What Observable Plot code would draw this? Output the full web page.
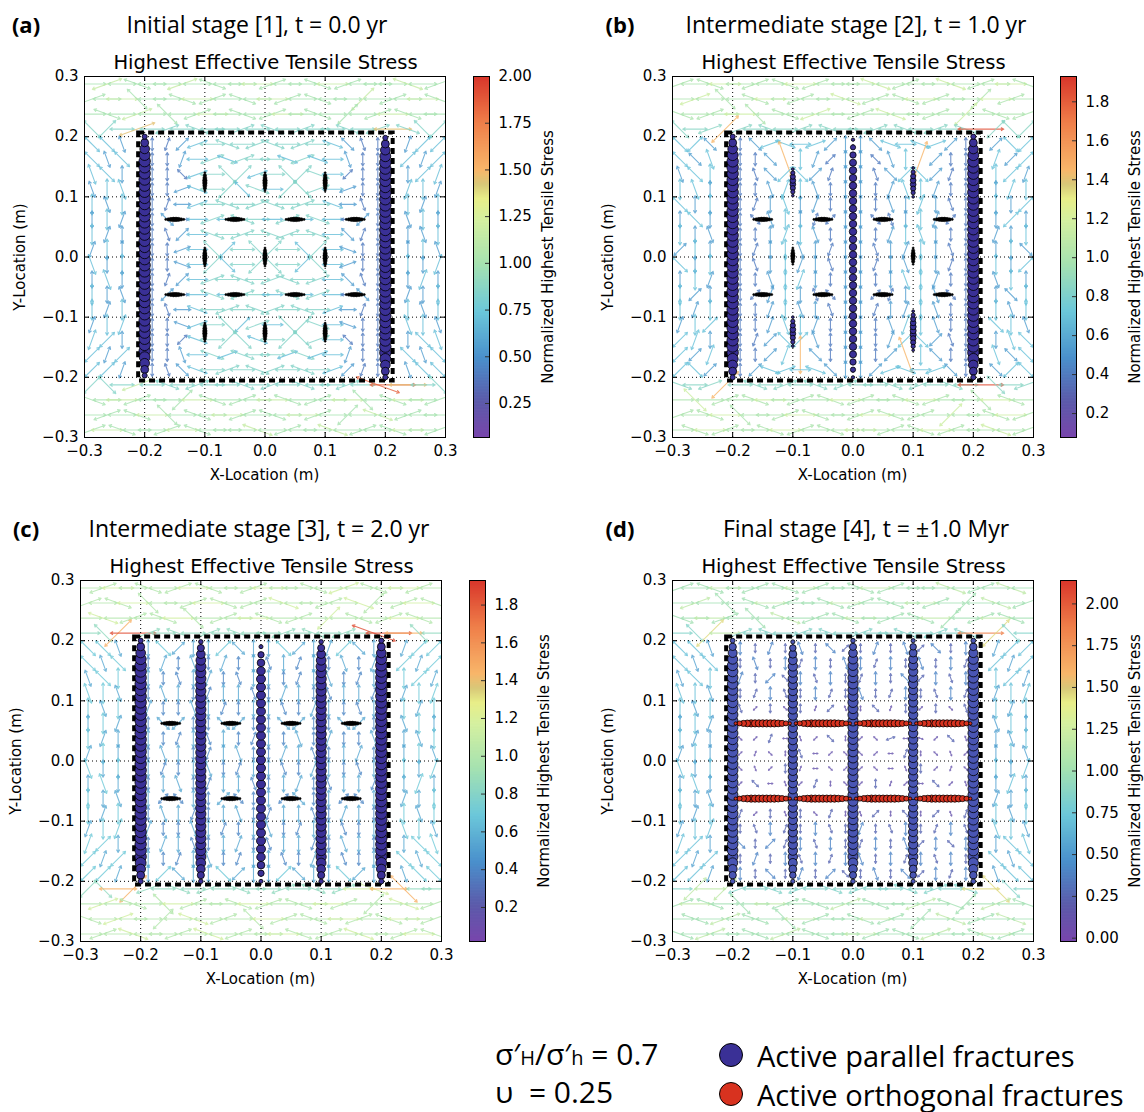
<!DOCTYPE html>
<html>
<head>
<meta charset="utf-8">
<script src="https://cdn.jsdelivr.net/npm/d3@7"></script>
<script src="https://cdn.jsdelivr.net/npm/@observablehq/plot@0.6"></script>
<style>
  html, body { margin: 0; padding: 0; background: #fff; overflow: hidden; }
  #fig { position: relative; width: 1144px; height: 1112px; overflow: hidden; color: #000; }
  .t { position: absolute; white-space: nowrap; line-height: 1.2; }
  .c { transform: translate(-50%, -50%); }
  .tag { font: 700 22px "Open Sans", sans-serif; }
  .stage { font: 23px "Open Sans", sans-serif; }
  .sub { font: 19.5px "DejaVu Sans", sans-serif; }
  .ax { font: 15px "DejaVu Sans", sans-serif; }
  .rot { transform: translate(-50%, -50%) rotate(-90deg); }
  .big { font: 30px "Open Sans", sans-serif; line-height: 1; transform: translateY(-50%); }
  .leg { font: 29px "Open Sans", sans-serif; line-height: 1; transform: translateY(-50%); }
  .swatch { position: absolute; width: 22px; height: 22px; border-radius: 50%; border: 1px solid #000; transform: translate(-50%, -50%); }
</style>
</head>
<body>
<div id="fig"></div>
<script>
// ---------- axes and labels ----------
const xTicks = [-0.3, -0.2, -0.1, 0, 0.1, 0.2, 0.3];
const yTicks = [-0.3, -0.2, -0.1, 0, 0.1, 0.2, 0.3];
const gridLines = [-0.2, -0.1, 0, 0.1, 0.2];
const panelTags = ["(a)", "(b)", "(c)", "(d)"];
const stageTitles = [
  "Initial stage [1], t = 0.0 yr",
  "Intermediate stage [2], t = 1.0 yr",
  "Intermediate stage [3], t = 2.0 yr",
  "Final stage [4], t = \u00b11.0 Myr"
];
const subTitle = "Highest Effective Tensile Stress";
const xLabel = "X-Location (m)";
const yLabel = "Y-Location (m)";
const colorbarLabel = "Normalized Highest Tensile Stress";

// colour bar ranges and ticks of each panel
const colorbarDomains = [[0.068, 2.0], [0.077, 1.93], [0.02, 1.93], [-0.02, 2.14]];
const colorbarTicks = [
  [0.25, 0.5, 0.75, 1.0, 1.25, 1.5, 1.75, 2.0],
  [0.2, 0.4, 0.6, 0.8, 1.0, 1.2, 1.4, 1.6, 1.8],
  [0.2, 0.4, 0.6, 0.8, 1.0, 1.2, 1.4, 1.6, 1.8],
  [0, 0.25, 0.5, 0.75, 1.0, 1.25, 1.5, 1.75, 2.0]
];
const colorbarFormats = [".2f", ".1f", ".1f", ".2f"];

// colour map: relative position along the bar -> colour
const cmapStops = [0, 0.1, 0.22, 0.35, 0.48, 0.6, 0.66, 0.7, 0.74, 0.87, 1];
const cmapColors = ["#7846ac", "#5b5aaa", "#4a90cc", "#6cc8da", "#a6e2b0", "#d4f0a0",
                    "#e8ee88", "#d8c878", "#f8b66a", "#ef7f4a", "#d8352a"];

// ---------- stress field on the sampling mesh ----------
// mesh cell centres (m), columns left->right, rows top->bottom
const cellCenters = [-0.2875, -0.2625, -0.2375, -0.2125, -0.1875, -0.1625, -0.1375, -0.1125,
                     -0.0875, -0.0625, -0.0375, -0.0125, 0.0125, 0.0375, 0.0625, 0.0875,
                     0.1125, 0.1375, 0.1625, 0.1875, 0.2125, 0.2375, 0.2625, 0.2875];
// direction code -> rotation (deg clockwise from north); "." = no vector
const dirAngles = { "-": 90, "a": 70, "/": 45, "c": 20, "|": 0, "d": -20, "x": -45, "b": 110 };
// stress level code -> normalized highest tensile stress
const levelValues = [0.12, 0.25, 0.4, 0.55, 0.7, 0.85, 1.0, 1.15, 1.45, 1.85];

const fieldDirA = [
  "-a-b--a-b---a--b-a---b-a",
  "a--x--b-a-b--a-b--/-a--b",
  "-b-a-x-a--b-a--b-/-a-b--",
  "x/-a-a-b--a-b-a--b-a-bx/",
  "xxd.|c/a-b-ab-a-bxd|.c//",
  "xdx.||c-aba--bab-d||./c/",
  "dx|.||xa-x/a-x/b-/||.|/c",
  "d|d.||ab-/xb-/xa-a||.c|c",
  "|d|.|c-a-b-ab-a-b-d|.|c|",
  "||c.|x--a-b--a-b--/|.d||",
  "|c|.|d/-b-a-ba-b-xc|.|d|",
  "c||.||a-x/-x/-x/-b||.||d",
  "d||.||b-/x-/x-/x-a||.||c",
  "|d|.|c/-a-b-ab-a-xd|.|c|",
  "||d.|/--b-a--b-a--x|.c||",
  "|c|.|d-b-a-ba-b-a-c|.|d|",
  "c|c.||ba-x/a-x/b-b||.d|d",
  "c/|.||/b-/xb-/xa-x||.|xd",
  "/c/.||d-bab--aba-c||.xdx",
  "//c.|dxb-a-ba-b-a/c|.dxx",
  "/x-a-b-a--b-a-b--a-b---x",
  "b--a--/-b-a--b-a--x-b--a",
  "-a-b-x-b--a-b--a-/-b-a--",
  "a-b--a-b---b-a--b-a-b--a"
];
const fieldLevelA = [
  "676666766667666676666766",
  "667666676666766666766676",
  "666766667666676666667666",
  "555855555555555555558555",
  "443022345555555543220344",
  "434022345455545443220434",
  "443022245554555542220344",
  "344022345545455543220443",
  "434022345555555543220434",
  "343023245455454542320343",
  "433022345555555543220334",
  "343022345455554543220343",
  "434022345455554543220434",
  "343022345555555543220343",
  "433023245455454542320334",
  "434022345555555543220434",
  "344022345545455543220443",
  "443022245554555542220344",
  "434022345455545443220434",
  "443022345555555543220344",
  "555755555555555555599855",
  "667666676666766667666766",
  "666676666766667666676666",
  "676666766667666676666766"
];

const fieldDirB = [
  "a-b--a-b-a---b-a--b-a--b",
  "-a-x-b--a--b-a-b-a--/-a-",
  "b-a--x-b-a--a-b--a-/-b-a",
  "x-a/a-b-a-b--a-b-a-b-/x/",
  "x/x.|xab-a/||xb-ba/|./x/",
  "xxd.||xd|c/||xd|c/||.c//",
  "dx|.|dx/x/c||dx/x/c|.|/c",
  "|d|.||dc|d||||cd|c||.|c|",
  "x||.|c|d|c||||d|c|d|.||/",
  "|x|.|xd||c/||xd||c/|.|/|",
  "||d.|||c|d||||c|d|||.c||",
  "/||.|c||d|c||d|c||d|.||x",
  "x||.|d||c|d||c|d||c|.||/",
  "||c.||d|c||||||d|c||.d||",
  "|/|.|/c||dx||/c||dx|.|x|",
  "|c|.||c|d|d||c|c|d||.|d|",
  "c|/.||cd|c||||dc|d||.x|d",
  "/c|.|c/x/d||||c/x/d|.|dx",
  "//c.||/c|x||||/d|x||.dxx",
  "/x/.|/ba-bx||/ab-ax|.x/x",
  "b-a/-b-a-b-a--b-a-b--x-a",
  "-x-a-b--a-b-a--b-a--x-b-",
  "a-b-x--a-b--a-b-a-/--b-a",
  "-b-a--b-a-b---a-b-a--b-a"
];
const fieldLevelB = [
  "666766667666676666766676",
  "676666766667666676666766",
  "666676666766667666676666",
  "555855555555555555559555",
  "443023444433334444320344",
  "434022384323323483220434",
  "344022344323323443220443",
  "443022344323323443220344",
  "434022343323323343220434",
  "343022343223322343220343",
  "433022344323323443220334",
  "343022343323323343220343",
  "434022343323323343220434",
  "343022344323323443220343",
  "433022343223322343220334",
  "434022343323323343220434",
  "344022344323323443220443",
  "443022344323323443220344",
  "434022348323323843220434",
  "443023444433334444320344",
  "555855555555555555559555",
  "676666766667666676666766",
  "666766667666676666766676",
  "667666676666766667666766"
];

const fieldDirC = [
  "-a--b-a-b--a---b-a-b--a-",
  "a-b-x--a-b-a-b--a-b/-a-b",
  "-b-a-b-x-a--b-a-/-b-a-b-",
  "-x/-a-b-a-b--a-b-a-b--x-",
  "xxd.|x/||/x||x/|c/x|.c//",
  "xdx.|c|d|c||d|c||d|c./c/",
  "dx|.||d|c|d|||c|d|c|.|/c",
  "d|d.|d||c||d|c||d||c.c|c",
  "|d|.c||d|c|||d|c||d|.|c|",
  "||c.|x/||x/||x/||x/|.d||",
  "|c|.||c|d||c||d|c||d.|d|",
  "c||.|d||c|d||c|d||c|.||d",
  "d||.|c||d|c||d|c||d|.||c",
  "|d|.||d|c||d||c|d||c.|c|",
  "||d.|/x||/x||/x||/x|.c||",
  "|c|.|d|c||d|c||d|c||.|d|",
  "c|c.c||d|c||d|c||d||.d|d",
  "c/|.|c|d||c|d||c|d||.|xd",
  "/c/.||c|d|c||d|c|d||.xdx",
  "//c.|/x||x/||/x||x/|.dxx",
  "/x-/a-b-a-b--a-b-a-b-x--",
  "-a-b-x-a--b-a-b--a-/-b-a",
  "b-a--/-b-a-x-a-b--a-b--a",
  "-a-b--a-b-a---b-a-b--a-b"
];
const fieldLevelC = [
  "667666676666766667666766",
  "666766667666676666766676",
  "676666766667666676666766",
  "558955555555555555599855",
  "443034333433343334330344",
  "434023232323232323230434",
  "344032233223322332230443",
  "443023322332233223320344",
  "434032233223322332230434",
  "343023322332233223320343",
  "433032232322323232230334",
  "343023322332233223320343",
  "434032233223322332230434",
  "343023322332233223320343",
  "433032232322323232230334",
  "434023322332233223320434",
  "344032233223322332230443",
  "443023322332233223320344",
  "434032233223322332230434",
  "443034333433343334330344",
  "558855555555555555778855",
  "676666766667666676666766",
  "667666676666766667666766",
  "666766667666676666766676"
];

const fieldDirD = [
  "a-b--a-b-a--b-a---b-a-b-",
  "-a-x-b-a--b-a-b--a-/-b-a",
  "b--a-x-b-a-b--a-b-/-a-b-",
  "-x/-a-b-a-b-a--b-a-b-/x-",
  "xxd.||c|d|x/|c|d/x||.c//",
  "xdx.|d||c||d|c||d||c./c/",
  "dx|.c|/x|d||c||x/|d|.|/c",
  "d|d.|c|d||c|d|c||d|c.c|c",
  "|d|.d/|x|c/d|xc|/|xd.|c|",
  "||c..................d||",
  "|c|.x/c-d/x|/xa-b/xd.|d|",
  "c||./cx|d-/xx/-c|xd/.||d",
  "d||.xd/|c-x//x-d|/cx.||c",
  "|d|./x-d/c|x/|c/-x/d.|c|",
  "||d..................c||",
  "|c|.c/|d|xc|d/|x|/dc.|d|",
  "c|c.|d|c||d|c|d||c|d.d|d",
  "c/|.x|/c|d||c||d/|x|.|xd",
  "/c/.|c||d|c|d||c|d||.xdx",
  "//c.||x|c|/x|d|x/|c|.dxx",
  "-/-/a-b-a-b-a--b-a-b-xx-",
  "a-b-x--a-b-a-b--a-b/-a-b",
  "-b-a-b-x-a--b-a-/-b-a-b-",
  "b-a--b-a-b---a-b-a--b-a-"
];
const fieldLevelD = [
  "666766667666676666766676",
  "676666766667666676666766",
  "667666676666766667666766",
  "558755555555555555559855",
  "443021212121121212120344",
  "434012121212212121210434",
  "344021212121121212120443",
  "443011211211211211210344",
  "434010101010010101010434",
  "343000000000000000000343",
  "433000100010001000100334",
  "343000001000000100000343",
  "434000010000000010000434",
  "343001000100010001000343",
  "433000000000000000000334",
  "434010101010010101010434",
  "344011211211211211210443",
  "443021212121121212120344",
  "434012121212212121210434",
  "443021212121121212120344",
  "577755555555555555558855",
  "676666766667666676666766",
  "666766667666676666766676",
  "667666676666766667666766"
];

// ---------- fractures ----------
// [x1, y1, x2, y2, elements, relative aperture, state]
const fracturesA = [
  [-0.2, -0.197, -0.2, 0.2, 40, 0.95, "parallel"],
  [0.2, -0.2, 0.2, 0.198, 40, 0.95, "parallel"],
  [-0.1, 0.11, -0.1, 0.14, 8, 0.4, "inactive"],
  [0, 0.11, 0, 0.14, 8, 0.4, "inactive"],
  [0.1, 0.11, 0.1, 0.14, 8, 0.4, "inactive"],
  [-0.1, -0.015, -0.1, 0.015, 8, 0.4, "inactive"],
  [0, -0.015, 0, 0.015, 8, 0.4, "inactive"],
  [0.1, -0.015, 0.1, 0.015, 8, 0.4, "inactive"],
  [-0.1, -0.14, -0.1, -0.11, 8, 0.4, "inactive"],
  [0, -0.14, 0, -0.11, 8, 0.4, "inactive"],
  [0.1, -0.14, 0.1, -0.11, 8, 0.4, "inactive"],
  [-0.165, 0.0625, -0.135, 0.0625, 8, 0.4, "inactive"],
  [-0.065, 0.0625, -0.035, 0.0625, 8, 0.4, "inactive"],
  [0.035, 0.0625, 0.065, 0.0625, 8, 0.4, "inactive"],
  [0.135, 0.0625, 0.165, 0.0625, 8, 0.4, "inactive"],
  [-0.165, -0.0625, -0.135, -0.0625, 8, 0.4, "inactive"],
  [-0.065, -0.0625, -0.035, -0.0625, 8, 0.4, "inactive"],
  [0.035, -0.0625, 0.065, -0.0625, 8, 0.4, "inactive"],
  [0.135, -0.0625, 0.165, -0.0625, 8, 0.4, "inactive"]
];
const fracturesB = [
  [-0.2, -0.2, -0.2, 0.2, 40, 0.95, "parallel"],
  [0.2, -0.2, 0.2, 0.2, 40, 0.95, "parallel"],
  [0, -0.2, 0, 0.195, 32, 0.62, "parallel"],
  [-0.1, 0.102, -0.1, 0.146, 8, 0.5, "parallel"],
  [-0.1, -0.148, -0.1, -0.1, 8, 0.5, "parallel"],
  [0.1, 0.1, 0.1, 0.148, 8, 0.5, "parallel"],
  [0.1, -0.155, 0.1, -0.09, 11, 0.5, "parallel"],
  [-0.1, -0.012, -0.1, 0.015, 7, 0.4, "inactive"],
  [0.1, -0.012, 0.1, 0.015, 7, 0.4, "inactive"],
  [-0.165, 0.0625, -0.135, 0.0625, 8, 0.4, "inactive"],
  [-0.065, 0.0625, -0.035, 0.0625, 8, 0.4, "inactive"],
  [0.035, 0.0625, 0.065, 0.0625, 8, 0.4, "inactive"],
  [0.135, 0.0625, 0.165, 0.0625, 8, 0.4, "inactive"],
  [-0.165, -0.0625, -0.135, -0.0625, 8, 0.4, "inactive"],
  [-0.065, -0.0625, -0.035, -0.0625, 8, 0.4, "inactive"],
  [0.035, -0.0625, 0.065, -0.0625, 8, 0.4, "inactive"],
  [0.135, -0.0625, 0.165, -0.0625, 8, 0.4, "inactive"]
];
const fracturesC = [
  [-0.2, -0.2, -0.2, 0.2, 40, 0.95, "parallel"],
  [-0.1, -0.2, -0.1, 0.198, 40, 0.85, "parallel"],
  [0, -0.2, 0, 0.19, 30, 0.75, "parallel"],
  [0.1, -0.2, 0.1, 0.198, 40, 0.85, "parallel"],
  [0.2, -0.2, 0.2, 0.2, 40, 0.95, "parallel"],
  [-0.165, 0.0625, -0.135, 0.0625, 8, 0.4, "inactive"],
  [-0.065, 0.0625, -0.035, 0.0625, 8, 0.4, "inactive"],
  [0.035, 0.0625, 0.065, 0.0625, 8, 0.4, "inactive"],
  [0.135, 0.0625, 0.165, 0.0625, 8, 0.4, "inactive"],
  [-0.165, -0.0625, -0.135, -0.0625, 8, 0.4, "inactive"],
  [-0.065, -0.0625, -0.035, -0.0625, 8, 0.4, "inactive"],
  [0.035, -0.0625, 0.065, -0.0625, 8, 0.4, "inactive"],
  [0.135, -0.0625, 0.165, -0.0625, 8, 0.4, "inactive"]
];
const fracturesD = [
  [-0.2, -0.2, -0.2, 0.2, 40, 0.88, "parallel"],
  [-0.1, -0.2, -0.1, 0.198, 40, 0.78, "parallel"],
  [0, -0.2, 0, 0.2, 40, 0.85, "parallel"],
  [0.1, -0.2, 0.1, 0.2, 40, 0.78, "parallel"],
  [0.2, -0.2, 0.2, 0.2, 40, 0.9, "parallel"],
  [-0.195, 0.0625, -0.105, 0.0625, 15, 0.6, "orthogonal"],
  [-0.095, 0.0625, -0.005, 0.0625, 15, 0.6, "orthogonal"],
  [0.005, 0.0625, 0.095, 0.0625, 15, 0.6, "orthogonal"],
  [0.105, 0.0625, 0.195, 0.0625, 15, 0.6, "orthogonal"],
  [-0.195, -0.0625, -0.105, -0.0625, 15, 0.6, "orthogonal"],
  [-0.095, -0.0625, -0.005, -0.0625, 15, 0.6, "orthogonal"],
  [0.005, -0.0625, 0.095, -0.0625, 15, 0.6, "orthogonal"],
  [0.105, -0.0625, 0.195, -0.0625, 15, 0.6, "orthogonal"]
];
// aperture of the end elements relative to the fracture body, from the tip inwards
const tipProfile = [0.45, 0.7, 0.85, 0.95];
// rock block outline (m)
const dashedBox = { x1: -0.21, x2: 0.213, y1: -0.206, y2: 0.206 };

const parallelFill = ["#3a3096", "#3a3096", "#3a3096", "#4955b3"];
const orthogonalFill = "#d8321f";
const inactiveFill = "#000000";

// ---------- page layout (pixels) ----------
const S = 361; // frame size of each map
const panelLayout = [
  { fx: 84, fy: 76, cbx: 473, tagX: 26, titleX: 257 },
  { fx: 672, fy: 76, cbx: 1060, tagX: 620, titleX: 856 },
  { fx: 80, fy: 580, cbx: 469, tagX: 26, titleX: 259 },
  { fx: 672, fy: 580, cbx: 1060, tagX: 620, titleX: 866 }
];

const fieldDirs = [fieldDirA, fieldDirB, fieldDirC, fieldDirD];
const fieldLevels = [fieldLevelA, fieldLevelB, fieldLevelC, fieldLevelD];
const fractureSets = [fracturesA, fracturesB, fracturesC, fracturesD];

// double-headed arrow glyph for the principal-stress direction
const doubleArrow = {
  draw(context, l) {
    const h = Math.min(2.4, l * 0.2), w = h * 0.6;
    context.moveTo(0, 0); context.lineTo(0, -l);
    context.moveTo(-w, h - l); context.lineTo(0, -l); context.lineTo(w, h - l);
    context.moveTo(-w, -h); context.lineTo(0, 0); context.lineTo(w, -h);
  }
};

function buildField(dirRows, levelRows) {
  const out = [];
  const n = cellCenters.length;
  dirRows.forEach((row, j) => {
    [...row].forEach((ch, i) => {
      if (!(ch in dirAngles) || i >= n) return;
      const code = levelRows[j][i];
      out.push({ x: cellCenters[i], y: cellCenters[n - 1 - j], rotate: dirAngles[ch], stress: levelValues[+code] });
    });
  });
  return out;
}

function buildElements(segments) {
  const out = [];
  for (const [x1, y1, x2, y2, n, size, state] of segments) {
    for (let i = 0; i < n; i++) {
      const t = n === 1 ? 0.5 : i / (n - 1);
      const fromTip = Math.min(i, n - 1 - i);
      const taper = fromTip < tipProfile.length ? tipProfile[fromTip] : 1;
      out.push({ x: x1 + (x2 - x1) * t, y: y1 + (y2 - y1) * t, r: size * taper, state });
    }
  }
  return out;
}

function colorScale(k) {
  const [d0, d1] = colorbarDomains[k];
  return { type: "linear", domain: cmapStops.map(t => d0 + t * (d1 - d0)), range: cmapColors, interpolate: "rgb", clamp: true };
}

const fig = document.getElementById("fig");
const fmt1 = d3.format(".1f");

function place(el, left, top) {
  el.style.position = "absolute";
  el.style.left = left + "px";
  el.style.top = top + "px";
  el.style.background = "transparent";
  el.style.maxWidth = "none";
  fig.appendChild(el);
}

function addText(cls, text, left, top) {
  const d = document.createElement("div");
  d.className = "t " + cls;
  d.textContent = text;
  d.style.left = left + "px";
  d.style.top = top + "px";
  fig.appendChild(d);
  return d;
}

function drawPanel(k) {
  const L = panelLayout[k];
  const field = buildField(fieldDirs[k], fieldLevels[k]);
  const elements = buildElements(fractureSets[k]);
  const ML = 80, MR = 22, MT = 10, MB = 45;
  const dotStyle = { x: "x", y: "y", r: "r", stroke: "#000", strokeWidth: 0.8 };

  const map = Plot.plot({
    width: S + ML + MR, height: S + MT + MB,
    marginLeft: ML, marginRight: MR, marginTop: MT, marginBottom: MB,
    style: { fontFamily: "DejaVu Sans", fontSize: "15px", color: "#000", background: "transparent" },
    x: { domain: [-0.3, 0.3] },
    y: { domain: [-0.3, 0.3] },
    color: colorScale(k),
    length: { type: "pow", exponent: 0.8, domain: [0, 1], range: [0, 28] },
    r: { type: "linear", domain: [0, 1], range: [0, 6] },
    marks: [
      Plot.vector(field, { x: "x", y: "y", rotate: "rotate", length: "stress", stroke: "stress",
                           anchor: "middle", shape: doubleArrow, strokeWidth: 1.1, strokeOpacity: 0.8, clip: true }),
      Plot.gridX(gridLines, { stroke: "#000", strokeOpacity: 1, strokeDasharray: "1,3", strokeWidth: 1 }),
      Plot.gridY(gridLines, { stroke: "#000", strokeOpacity: 1, strokeDasharray: "1,3", strokeWidth: 1 }),
      Plot.rect([dashedBox], { x1: "x1", x2: "x2", y1: "y1", y2: "y2", fill: "none", stroke: "#000",
                               strokeWidth: 4, strokeDasharray: "6,4" }),
      Plot.dot(elements.filter(d => d.state === "parallel"), { ...dotStyle, fill: parallelFill[k] }),
      Plot.dot(elements.filter(d => d.state === "orthogonal"), { ...dotStyle, fill: orthogonalFill }),
      Plot.dot(elements.filter(d => d.state === "inactive"), { ...dotStyle, fill: inactiveFill, strokeWidth: 0.5 }),
      Plot.tickX(xTicks, { x: d => d, insetTop: S - 5, stroke: "#000" }),
      Plot.tickX(xTicks, { x: d => d, insetBottom: S - 5, stroke: "#000" }),
      Plot.tickY(yTicks, { y: d => d, insetRight: S - 5, stroke: "#000" }),
      Plot.tickY(yTicks, { y: d => d, insetLeft: S - 5, stroke: "#000" }),
      Plot.axisX({ ticks: xTicks, tickFormat: fmt1, tickSize: 0, tickPadding: 8, label: null }),
      Plot.axisY({ ticks: yTicks, tickFormat: fmt1, tickSize: 0, tickPadding: 6, label: null }),
      Plot.frame({ stroke: "#000" })
    ]
  });
  place(map, L.fx - ML, L.fy - MT);

  // colour bar
  const [d0, d1] = colorbarDomains[k];
  const nStripes = 240;
  const stripes = d3.range(nStripes).map(i => ({
    lo: d0 + (d1 - d0) * i / nStripes,
    hi: d0 + (d1 - d0) * Math.min(1, (i + 1.5) / nStripes),
    mid: d0 + (d1 - d0) * (i + 0.5) / nStripes
  }));
  const CW = 16, CML = 5, CMR = 60;
  const bar = Plot.plot({
    width: CW + CML + CMR, height: S + MT + 10,
    marginLeft: CML, marginRight: CMR, marginTop: MT, marginBottom: 10,
    style: { fontFamily: "DejaVu Sans", fontSize: "15px", color: "#000", background: "transparent" },
    x: { domain: [0, 1], axis: null },
    y: { domain: [d0, d1] },
    color: colorScale(k),
    marks: [
      Plot.rect(stripes, { x1: 0, x2: 1, y1: "lo", y2: "hi", fill: "mid" }),
      Plot.tickY(colorbarTicks[k], { y: d => d, insetLeft: CW - 4, stroke: "#333" }),
      Plot.axisY({ anchor: "right", ticks: colorbarTicks[k], tickFormat: d3.format(colorbarFormats[k]),
                   tickSize: 0, tickPadding: 9, label: null }),
      Plot.frame({ stroke: "#000" })
    ]
  });
  place(bar, L.cbx - CML, L.fy - MT);

  // texts
  addText("tag c", panelTags[k], L.tagX, L.fy - 52);
  addText("stage c", stageTitles[k], L.titleX, L.fy - 52);
  addText("sub c", subTitle, L.fx + S / 2 + 1, L.fy - 14);
  addText("ax c", xLabel, L.fx + S / 2, L.fy + S + 38);
  addText("ax rot", yLabel, L.fx - 64, L.fy + S / 2);
  addText("ax rot", colorbarLabel, L.cbx + CW + 59, L.fy + S / 2);
}

[0, 1, 2, 3].forEach(drawPanel);

// parameters and legend
const parameterLines = [
  ["\u03c3\u2032", "H", "/\u03c3\u2032", "h", " = 0.7"],
  ["\u03c5\u00a0\u00a0= 0.25"]
];
const legendItems = [
  { label: "Active parallel fractures", fill: "#3a3096" },
  { label: "Active orthogonal fractures", fill: "#d8321f" }
];

const p1 = addText("big", "", 495, 1054);
p1.innerHTML = `${parameterLines[0][0]}<span style="font-size:20px">${parameterLines[0][1]}</span>${parameterLines[0][2]}<span style="font-size:20px">${parameterLines[0][3]}</span>${parameterLines[0][4]}`;
addText("big", parameterLines[1][0], 495, 1092);

legendItems.forEach((item, i) => {
  const cy = 1055 + i * 39;
  const sw = document.createElement("div");
  sw.className = "swatch";
  sw.style.left = "731px";
  sw.style.top = cy + "px";
  sw.style.background = item.fill;
  fig.appendChild(sw);
  addText("leg", item.label, 757, cy);
});
</script>
</body>
</html>
